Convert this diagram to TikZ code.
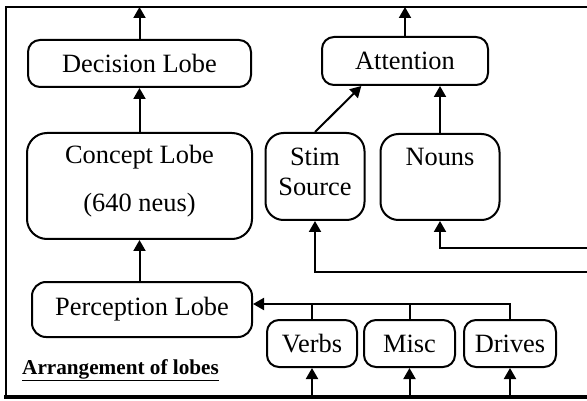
\documentclass[tikz,border=0pt]{standalone}
\usepackage{fontspec}
\setmainfont{Liberation Serif}
\usetikzlibrary{arrows.meta,calc}
\begin{document}
\begin{tikzpicture}[x=1pt,y=-1pt,
  lobe/.style={draw,line width=2pt,rounded corners=#1,inner sep=0pt},
  lobe/.default=12pt,
  lbl/.style={font=\fontsize{26.4}{30}\selectfont,inner sep=0pt},
  arr/.style={line width=2pt,-{Triangle[length=11pt,width=12pt]}},
  ln/.style={line width=2pt}]
\useasboundingbox (0,0) rectangle (587,401);
% frame
\draw[ln] (587,7) -- (6,7) -- (6,397);
\draw[line width=4pt] (4,397) -- (587,397);
% boxes
\node[lobe, minimum width=223pt, minimum height=47pt] (dec) at (139.5,63.5) {};
\node[lbl] (decT) at (dec.center) {Decision Lobe};
\node[lobe=20pt, minimum width=225pt, minimum height=106pt] (con) at (139.5,186) {};
\node[lbl] (conT1) at (139.5,157) {Concept Lobe};
\node[lbl] (conT2) at (139.5,205) {(640 neus)};
\node[lobe=14pt, minimum width=220pt, minimum height=55pt] (per) at (142,309.5) {};
\node[lbl] (perT) at (per.center) {Perception Lobe};
\node[lobe, minimum width=166pt, minimum height=48pt] (att) at (405,61) {};
\node[lbl] (attT) at (att.center) {Attention};
\node[lobe=18pt, minimum width=99pt, minimum height=87pt] (stim) at (315,176.5) {};
\node[lbl] (stimT1) at (315,157) {Stim};
\node[lbl] (stimT2) at (315,187) {Source};
\node[lobe=18pt, minimum width=119pt, minimum height=86pt] (nouns) at (440,177) {};
\node[lbl] (nounsT) at (440,157) {Nouns};
\node[lobe, minimum width=90pt, minimum height=47pt] (verbs) at (312,343.5) {};
\node[lbl] (verbsT) at (verbs.center) {Verbs};
\node[lobe, minimum width=91pt, minimum height=47pt] (misc) at (409.5,343.5) {};
\node[lbl] (miscT) at (misc.center) {Misc};
\node[lobe, minimum width=92pt, minimum height=47pt] (drv) at (510,343.5) {};
\node[lbl] (drvT) at (drv.center) {Drives};
\node[anchor=base west,inner sep=0pt,font=\fontsize{21.2}{24}\selectfont\bfseries] (cap) at (22,374) {\underline{Arrangement of lobes}};
% coordinates
\coordinate (decOut) at (139.5,7);
\coordinate (attOut) at (405,7);
\coordinate (inStim) at (587,272);
\coordinate (inNouns) at (587,248);
\coordinate (bus) at (510,304);
\coordinate (inV) at (312,396);
\coordinate (inM) at (409.5,396);
\coordinate (inD) at (510,396);
% connectors
\draw[arr] (dec.north) -- (decOut);
\draw[arr] (att.north) -- (attOut);
\draw[arr] (con.north) -- (dec.south);
\draw[arr] (per.north -| con.south) -- (con.south);
\draw[arr] (stim.north) -- ($(att.south west)!0.24!(att.south east)$);
\draw[arr] (nouns.north) -- (nouns.north |- att.south);
\draw[arr] (inStim) -| (stim.south);
\draw[arr] (inNouns) -| (nouns.south);
\draw[arr] (drv.north) -- (bus) -- (bus -| per.east);
\draw[ln] (verbs.north) -- (verbs.north |- bus);
\draw[ln] (misc.north) -- (misc.north |- bus);
\draw[arr] (inV) -- (verbs.south);
\draw[arr] (inM) -- (misc.south);
\draw[arr] (inD) -- (drv.south);
\end{tikzpicture}
\end{document}
